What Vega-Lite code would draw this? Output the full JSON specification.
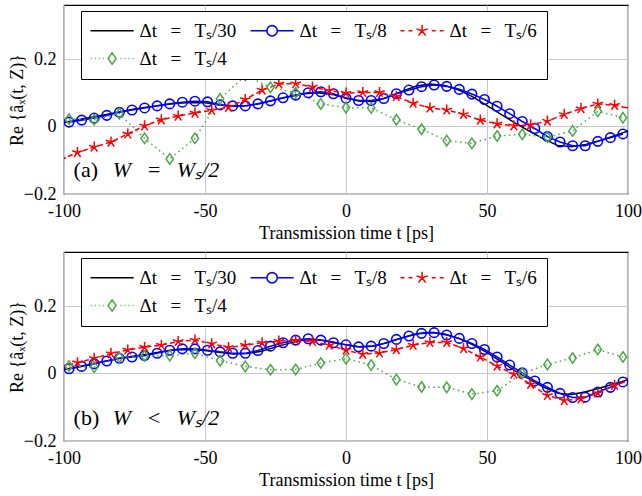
{
  "$schema": "https://vega.github.io/schema/vega-lite/v6.json",
  "padding": {"left": 7, "top": 4, "right": 0, "bottom": 2},
  "background": "white",
  "spacing": 8,
  "resolve": {"scale": {"color": "independent", "shape": "independent"}, "legend": {"color": "independent", "shape": "independent"}},
  "config": {
    "font": "Liberation Serif",
    "view": {"stroke": "black", "strokeWidth": 1.2},
    "axis": {"grid": true, "gridColor": "#c8c8c8", "gridWidth": 1, "domain": false, "ticks": false, "labelFont": "Liberation Serif", "labelFontSize": 18, "labelColor": "black", "titleFont": "Liberation Serif", "titleFontSize": 18, "titleFontWeight": "normal", "titleColor": "black"},
    "legend": {"title": null, "orient": "none", "legendX": 17, "legendY": 6, "direction": "horizontal", "columns": 3, "symbolSize": 256, "symbolStrokeWidth": 1.5, "symbolOffset": 11.6, "labelOffset": 18, "labelFont": "Liberation Serif", "labelFontSize": 19, "labelColor": "black", "labelLimit": 300, "columnPadding": 10, "rowPadding": 8, "padding": 10, "strokeColor": "black", "fillColor": "white", "cornerRadius": 0}
  },
  "datasets": {
    "a": [
      {"s":"30","t":-100,"v":0.012},{"s":"30","t":-95,"v":0.02},{"s":"30","t":-90,"v":0.028},{"s":"30","t":-85,"v":0.036},{"s":"30","t":-80,"v":0.044},{"s":"30","t":-75,"v":0.052},{"s":"30","t":-70,"v":0.058},{"s":"30","t":-65,"v":0.064},{"s":"30","t":-60,"v":0.069},{"s":"30","t":-55,"v":0.071},{"s":"30","t":-50,"v":0.07},{"s":"30","t":-45,"v":0.064},{"s":"30","t":-40,"v":0.06},{"s":"30","t":-35,"v":0.062},{"s":"30","t":-30,"v":0.069},{"s":"30","t":-25,"v":0.079},{"s":"30","t":-20,"v":0.089},{"s":"30","t":-15,"v":0.097},{"s":"30","t":-10,"v":0.1},{"s":"30","t":-5,"v":0.095},{"s":"30","t":0,"v":0.084},{"s":"30","t":5,"v":0.075},{"s":"30","t":10,"v":0.074},{"s":"30","t":15,"v":0.087},{"s":"30","t":20,"v":0.105},{"s":"30","t":25,"v":0.12},{"s":"30","t":30,"v":0.126},{"s":"30","t":35,"v":0.122},{"s":"30","t":40,"v":0.108},{"s":"30","t":45,"v":0.088},{"s":"30","t":50,"v":0.062},{"s":"30","t":55,"v":0.036},{"s":"30","t":60,"v":0.01},{"s":"30","t":65,"v":-0.014},{"s":"30","t":70,"v":-0.037},{"s":"30","t":75,"v":-0.056},{"s":"30","t":80,"v":-0.06},{"s":"30","t":85,"v":-0.053},{"s":"30","t":90,"v":-0.042},{"s":"30","t":95,"v":-0.028},{"s":"30","t":100,"v":-0.013},
      {"s":"8","t":-98.21,"v":0.013},{"s":"8","t":-93.75,"v":0.019},{"s":"8","t":-89.29,"v":0.025},{"s":"8","t":-84.82,"v":0.033},{"s":"8","t":-80.36,"v":0.042},{"s":"8","t":-75.89,"v":0.049},{"s":"8","t":-71.43,"v":0.055},{"s":"8","t":-66.96,"v":0.061},{"s":"8","t":-62.5,"v":0.067},{"s":"8","t":-58.04,"v":0.072},{"s":"8","t":-53.57,"v":0.075},{"s":"8","t":-49.11,"v":0.073},{"s":"8","t":-44.64,"v":0.064},{"s":"8","t":-40.18,"v":0.061},{"s":"8","t":-35.71,"v":0.061},{"s":"8","t":-31.25,"v":0.067},{"s":"8","t":-26.79,"v":0.076},{"s":"8","t":-22.32,"v":0.085},{"s":"8","t":-17.86,"v":0.093},{"s":"8","t":-13.39,"v":0.1},{"s":"8","t":-8.93,"v":0.103},{"s":"8","t":-4.46,"v":0.097},{"s":"8","t":0,"v":0.084},{"s":"8","t":4.46,"v":0.077},{"s":"8","t":8.93,"v":0.077},{"s":"8","t":13.39,"v":0.083},{"s":"8","t":17.86,"v":0.097},{"s":"8","t":22.32,"v":0.108},{"s":"8","t":26.79,"v":0.118},{"s":"8","t":31.25,"v":0.123},{"s":"8","t":35.71,"v":0.119},{"s":"8","t":40.18,"v":0.11},{"s":"8","t":44.64,"v":0.096},{"s":"8","t":49.11,"v":0.08},{"s":"8","t":53.57,"v":0.06},{"s":"8","t":58.04,"v":0.038},{"s":"8","t":62.5,"v":0.015},{"s":"8","t":66.96,"v":-0.006},{"s":"8","t":71.43,"v":-0.03},{"s":"8","t":75.89,"v":-0.046},{"s":"8","t":80.36,"v":-0.057},{"s":"8","t":84.82,"v":-0.057},{"s":"8","t":89.29,"v":-0.044},{"s":"8","t":93.75,"v":-0.033},{"s":"8","t":98.21,"v":-0.022},
      {"s":"6","t":-101.19,"v":-0.098},{"s":"6","t":-95.24,"v":-0.077},{"s":"6","t":-89.29,"v":-0.061},{"s":"6","t":-83.33,"v":-0.046},{"s":"6","t":-77.38,"v":-0.022},{"s":"6","t":-71.43,"v":0.002},{"s":"6","t":-65.48,"v":0.02},{"s":"6","t":-59.52,"v":0.031},{"s":"6","t":-53.57,"v":0.04},{"s":"6","t":-47.62,"v":0.048},{"s":"6","t":-41.67,"v":0.057},{"s":"6","t":-35.71,"v":0.08},{"s":"6","t":-29.76,"v":0.108},{"s":"6","t":-23.81,"v":0.126},{"s":"6","t":-17.86,"v":0.127},{"s":"6","t":-11.9,"v":0.117},{"s":"6","t":-5.95,"v":0.106},{"s":"6","t":0,"v":0.099},{"s":"6","t":5.95,"v":0.101},{"s":"6","t":11.9,"v":0.101},{"s":"6","t":17.86,"v":0.089},{"s":"6","t":23.81,"v":0.069},{"s":"6","t":29.76,"v":0.055},{"s":"6","t":35.71,"v":0.049},{"s":"6","t":41.67,"v":0.036},{"s":"6","t":47.62,"v":0.019},{"s":"6","t":53.57,"v":0.008},{"s":"6","t":59.52,"v":0.002},{"s":"6","t":65.48,"v":0.005},{"s":"6","t":71.43,"v":0.016},{"s":"6","t":77.38,"v":0.036},{"s":"6","t":83.33,"v":0.053},{"s":"6","t":89.29,"v":0.067},{"s":"6","t":95.24,"v":0.063},{"s":"6","t":101.19,"v":0.052},
      {"s":"4","t":-98.21,"v":0.022},{"s":"4","t":-89.29,"v":0.02},{"s":"4","t":-80.36,"v":0.038},{"s":"4","t":-71.43,"v":-0.035},{"s":"4","t":-62.5,"v":-0.096},{"s":"4","t":-53.57,"v":-0.035},{"s":"4","t":-44.64,"v":0.082},{"s":"4","t":-35.71,"v":0.151},{"s":"4","t":-26.79,"v":0.116},{"s":"4","t":-17.86,"v":0.1},{"s":"4","t":-8.93,"v":0.067},{"s":"4","t":0,"v":0.056},{"s":"4","t":8.93,"v":0.055},{"s":"4","t":17.86,"v":0.02},{"s":"4","t":26.79,"v":-0.008},{"s":"4","t":35.71,"v":-0.042},{"s":"4","t":44.64,"v":-0.05},{"s":"4","t":53.57,"v":-0.028},{"s":"4","t":62.5,"v":-0.023},{"s":"4","t":71.43,"v":-0.032},{"s":"4","t":80.36,"v":-0.013},{"s":"4","t":89.29,"v":0.045},{"s":"4","t":98.21,"v":0.026}
    ],
    "b": [
      {"s":"30","t":-100,"v":0.012},{"s":"30","t":-95,"v":0.02},{"s":"30","t":-90,"v":0.028},{"s":"30","t":-85,"v":0.037},{"s":"30","t":-80,"v":0.045},{"s":"30","t":-75,"v":0.052},{"s":"30","t":-70,"v":0.058},{"s":"30","t":-65,"v":0.065},{"s":"30","t":-60,"v":0.07},{"s":"30","t":-55,"v":0.071},{"s":"30","t":-50,"v":0.068},{"s":"30","t":-45,"v":0.063},{"s":"30","t":-40,"v":0.058},{"s":"30","t":-35,"v":0.059},{"s":"30","t":-30,"v":0.066},{"s":"30","t":-25,"v":0.078},{"s":"30","t":-20,"v":0.09},{"s":"30","t":-15,"v":0.099},{"s":"30","t":-10,"v":0.1},{"s":"30","t":-5,"v":0.094},{"s":"30","t":0,"v":0.085},{"s":"30","t":5,"v":0.079},{"s":"30","t":10,"v":0.081},{"s":"30","t":15,"v":0.092},{"s":"30","t":20,"v":0.106},{"s":"30","t":25,"v":0.118},{"s":"30","t":30,"v":0.122},{"s":"30","t":35,"v":0.117},{"s":"30","t":40,"v":0.104},{"s":"30","t":45,"v":0.085},{"s":"30","t":50,"v":0.062},{"s":"30","t":55,"v":0.035},{"s":"30","t":60,"v":0.008},{"s":"30","t":65,"v":-0.017},{"s":"30","t":70,"v":-0.04},{"s":"30","t":75,"v":-0.058},{"s":"30","t":80,"v":-0.062},{"s":"30","t":85,"v":-0.054},{"s":"30","t":90,"v":-0.043},{"s":"30","t":95,"v":-0.031},{"s":"30","t":100,"v":-0.018},
      {"s":"8","t":-98.21,"v":0.014},{"s":"8","t":-93.75,"v":0.021},{"s":"8","t":-89.29,"v":0.029},{"s":"8","t":-84.82,"v":0.037},{"s":"8","t":-80.36,"v":0.045},{"s":"8","t":-75.89,"v":0.049},{"s":"8","t":-71.43,"v":0.053},{"s":"8","t":-66.96,"v":0.06},{"s":"8","t":-62.5,"v":0.069},{"s":"8","t":-58.04,"v":0.073},{"s":"8","t":-53.57,"v":0.073},{"s":"8","t":-49.11,"v":0.069},{"s":"8","t":-44.64,"v":0.064},{"s":"8","t":-40.18,"v":0.06},{"s":"8","t":-35.71,"v":0.06},{"s":"8","t":-31.25,"v":0.068},{"s":"8","t":-26.79,"v":0.081},{"s":"8","t":-22.32,"v":0.091},{"s":"8","t":-17.86,"v":0.099},{"s":"8","t":-13.39,"v":0.103},{"s":"8","t":-8.93,"v":0.099},{"s":"8","t":-4.46,"v":0.091},{"s":"8","t":0,"v":0.085},{"s":"8","t":4.46,"v":0.079},{"s":"8","t":8.93,"v":0.081},{"s":"8","t":13.39,"v":0.089},{"s":"8","t":17.86,"v":0.101},{"s":"8","t":22.32,"v":0.111},{"s":"8","t":26.79,"v":0.119},{"s":"8","t":31.25,"v":0.121},{"s":"8","t":35.71,"v":0.114},{"s":"8","t":40.18,"v":0.104},{"s":"8","t":44.64,"v":0.089},{"s":"8","t":49.11,"v":0.071},{"s":"8","t":53.57,"v":0.049},{"s":"8","t":58.04,"v":0.025},{"s":"8","t":62.5,"v":0.002},{"s":"8","t":66.96,"v":-0.022},{"s":"8","t":71.43,"v":-0.041},{"s":"8","t":75.89,"v":-0.059},{"s":"8","t":80.36,"v":-0.071},{"s":"8","t":84.82,"v":-0.07},{"s":"8","t":89.29,"v":-0.055},{"s":"8","t":93.75,"v":-0.041},{"s":"8","t":98.21,"v":-0.025},
      {"s":"6","t":-101.19,"v":0.02},{"s":"6","t":-95.24,"v":0.032},{"s":"6","t":-89.29,"v":0.045},{"s":"6","t":-83.33,"v":0.059},{"s":"6","t":-77.38,"v":0.07},{"s":"6","t":-71.43,"v":0.078},{"s":"6","t":-65.48,"v":0.084},{"s":"6","t":-59.52,"v":0.095},{"s":"6","t":-53.57,"v":0.099},{"s":"6","t":-47.62,"v":0.088},{"s":"6","t":-41.67,"v":0.077},{"s":"6","t":-35.71,"v":0.084},{"s":"6","t":-29.76,"v":0.091},{"s":"6","t":-23.81,"v":0.096},{"s":"6","t":-17.86,"v":0.098},{"s":"6","t":-11.9,"v":0.095},{"s":"6","t":-5.95,"v":0.084},{"s":"6","t":0,"v":0.069},{"s":"6","t":5.95,"v":0.057},{"s":"6","t":11.9,"v":0.061},{"s":"6","t":17.86,"v":0.071},{"s":"6","t":23.81,"v":0.084},{"s":"6","t":29.76,"v":0.092},{"s":"6","t":35.71,"v":0.092},{"s":"6","t":41.67,"v":0.074},{"s":"6","t":47.62,"v":0.049},{"s":"6","t":53.57,"v":0.022},{"s":"6","t":59.52,"v":-0.002},{"s":"6","t":65.48,"v":-0.032},{"s":"6","t":71.43,"v":-0.065},{"s":"6","t":77.38,"v":-0.08},{"s":"6","t":83.33,"v":-0.075},{"s":"6","t":89.29,"v":-0.058},{"s":"6","t":95.24,"v":-0.035},{"s":"6","t":101.19,"v":-0.018},
      {"s":"4","t":-98.21,"v":0.022},{"s":"4","t":-89.29,"v":0.019},{"s":"4","t":-80.36,"v":0.048},{"s":"4","t":-71.43,"v":0.052},{"s":"4","t":-62.5,"v":0.053},{"s":"4","t":-53.57,"v":0.06},{"s":"4","t":-44.64,"v":0.038},{"s":"4","t":-35.71,"v":0.021},{"s":"4","t":-26.79,"v":0.011},{"s":"4","t":-17.86,"v":0.012},{"s":"4","t":-8.93,"v":0.031},{"s":"4","t":0,"v":0.044},{"s":"4","t":8.93,"v":0.025},{"s":"4","t":17.86,"v":-0.018},{"s":"4","t":26.79,"v":-0.04},{"s":"4","t":35.71,"v":-0.041},{"s":"4","t":44.64,"v":-0.061},{"s":"4","t":53.57,"v":-0.051},{"s":"4","t":62.5,"v":0.0},{"s":"4","t":71.43,"v":0.027},{"s":"4","t":80.36,"v":0.046},{"s":"4","t":89.29,"v":0.071},{"s":"4","t":98.21,"v":0.049}
    ]
  },
  "vconcat": [
    {
      "width": 564, "height": 189,
      "layer": [
        {
          "data": {"name": "a"},
          "encoding": {
            "x": {"field": "t", "type": "quantitative", "scale": {"domain": [-100, 100], "nice": false, "zero": false},
                  "axis": {"values": [-100, -50, 0, 50, 100], "labelFlush": false, "labelPadding": 8, "titlePadding": 4, "title": "Transmission time t [ps]", "labelFont": "Liberation Serif", "titleFont": "Liberation Serif",
                           "labelExpr": "datum.value < 0 ? '-' + format(-datum.value, 'd') : format(datum.value, 'd')"}},
            "y": {"field": "v", "type": "quantitative", "scale": {"domain": [-0.2, 0.36], "nice": false, "zero": false},
                  "axis": {"values": [-0.2, 0, 0.2], "labelPadding": 8, "titlePadding": -3, "title": "Re {âₓ(t, Z)}", "labelFont": "Liberation Serif", "titleFont": "Liberation Serif",
                           "labelExpr": "datum.value == 0 ? '0' : datum.value < 0 ? '−' + format(-datum.value, '.1f') : format(datum.value, '.1f')"}}
          },
          "layer": [
            {"transform": [{"filter": "datum.s == '30'"}], "mark": {"type": "line", "color": "black", "strokeWidth": 1.4, "clip": true}},
            {"transform": [{"filter": "datum.s == '8'"}], "mark": {"type": "line", "color": "#0000ff", "strokeWidth": 1.6, "clip": true}},
            {"transform": [{"filter": "datum.s == '8'"}], "mark": {"type": "point", "shape": "circle", "size": 90, "filled": false, "color": "#0000ff", "strokeWidth": 1.6, "opacity": 1, "clip": true}},
            {"transform": [{"filter": "datum.s == '6'"}], "mark": {"type": "line", "color": "#ff0000", "strokeWidth": 1.5, "strokeDash": [5, 3], "clip": true}},
            {"transform": [{"filter": "datum.s == '6'"}], "mark": {"type": "point", "shape": "M0,0L0,-1M0,0L-0.951,-0.309M0,0L-0.588,0.809M0,0L0.588,0.809M0,0L0.951,-0.309", "size": 121, "filled": false, "color": "#ff0000", "strokeWidth": 1.5, "opacity": 1, "clip": true}},
            {"transform": [{"filter": "datum.s == '4'"}], "mark": {"type": "line", "color": "#4ea64a", "strokeWidth": 1.5, "strokeDash": [1.5, 3.5], "clip": true}},
            {"transform": [{"filter": "datum.s == '4'"}], "mark": {"type": "point", "shape": "M0,-1L0.7,0L0,1L-0.7,0Z", "size": 110, "filled": false, "color": "#4ea64a", "strokeWidth": 1.5, "opacity": 1, "clip": true}},
            {
              "transform": [{"filter": "datum.t > 1000"}],
              "mark": {"type": "point", "filled": false, "opacity": 1},
              "encoding": {
                "color": {"field": "s", "type": "nominal", "scale": {"domain": ["30", "8", "6", "4"], "range": ["black", "#0000ff", "#ff0000", "#4ea64a"]},
                          "legend": {"labelFont": "Liberation Serif", "labelExpr": "datum.value == '30' ? 'Δt\u2002\u2009=\u2009\u2002Tₛ/30' : datum.value == '8' ? 'Δt\u2002\u2009=\u2009\u2002Tₛ/8' : datum.value == '6' ? 'Δt\u2002\u2009=\u2009\u2002Tₛ/6' : 'Δt\u2002\u2009=\u2009\u2002Tₛ/4'"}},
                "shape": {"field": "s", "type": "nominal", "scale": {"domain": ["30", "8", "6", "4"], "range": [
                    "M-2.7,0L2.7,0",
                    "M-2.7,0L-0.65,0M0.65,0L2.7,0M0.65,0L0.6,0.249L0.46,0.46L0.249,0.6L0,0.65L-0.249,0.6L-0.46,0.46L-0.6,0.249L-0.65,0L-0.6,-0.249L-0.46,-0.46L-0.249,-0.6L0,-0.65L0.249,-0.6L0.46,-0.46L0.6,-0.249Z",
                    "M-2.7,0L-2.2,0M-1.7,0L-1.2,0M1.2,0L1.7,0M2.2,0L2.7,0M0,0L0,-0.75M0,0L-0.713,-0.232M0,0L-0.441,0.607M0,0L0.441,0.607M0,0L0.713,-0.232",
                    "M-2.66,0L-2.54,0M-2.16,0L-2.04,0M-1.66,0L-1.54,0M-1.16,0L-1.04,0M1.04,0L1.16,0M1.54,0L1.66,0M2.04,0L2.16,0M2.54,0L2.66,0M0,-0.7L0.5,0L0,0.7L-0.5,0Z"]},
                          "legend": {"labelFont": "Liberation Serif", "labelExpr": "datum.value == '30' ? 'Δt\u2002\u2009=\u2009\u2002Tₛ/30' : datum.value == '8' ? 'Δt\u2002\u2009=\u2009\u2002Tₛ/8' : datum.value == '6' ? 'Δt\u2002\u2009=\u2009\u2002Tₛ/6' : 'Δt\u2002\u2009=\u2009\u2002Tₛ/4'"}}
              }
            }
          ]
        },
        {"data": {"values": [{}]}, "mark": {"type": "text", "text": "(a)", "align": "left", "baseline": "alphabetic", "fontSize": 22, "font": "Liberation Serif", "color": "black"},
         "encoding": {"x": {"datum": -96.6, "type": "quantitative"}, "y": {"datum": -0.151, "type": "quantitative"}}},
        {"data": {"values": [{}]}, "mark": {"type": "text", "text": "W\u2002\u2009=\u2009\u2002Wₛ/2", "align": "left", "baseline": "alphabetic", "fontSize": 22, "fontStyle": "italic", "font": "Liberation Serif", "color": "black"},
         "encoding": {"x": {"datum": -82.7, "type": "quantitative"}, "y": {"datum": -0.151, "type": "quantitative"}}}
      ]
    },
    {
      "width": 564, "height": 189,
      "layer": [
        {
          "data": {"name": "b"},
          "encoding": {
            "x": {"field": "t", "type": "quantitative", "scale": {"domain": [-100, 100], "nice": false, "zero": false},
                  "axis": {"values": [-100, -50, 0, 50, 100], "labelFlush": false, "labelPadding": 8, "titlePadding": 4, "title": "Transmission time t [ps]", "labelFont": "Liberation Serif", "titleFont": "Liberation Serif",
                           "labelExpr": "datum.value < 0 ? '-' + format(-datum.value, 'd') : format(datum.value, 'd')"}},
            "y": {"field": "v", "type": "quantitative", "scale": {"domain": [-0.2, 0.36], "nice": false, "zero": false},
                  "axis": {"values": [-0.2, 0, 0.2], "labelPadding": 8, "titlePadding": -3, "title": "Re {âₓ(t, Z)}", "labelFont": "Liberation Serif", "titleFont": "Liberation Serif",
                           "labelExpr": "datum.value == 0 ? '0' : datum.value < 0 ? '−' + format(-datum.value, '.1f') : format(datum.value, '.1f')"}}
          },
          "layer": [
            {"transform": [{"filter": "datum.s == '30'"}], "mark": {"type": "line", "color": "black", "strokeWidth": 1.4, "clip": true}},
            {"transform": [{"filter": "datum.s == '8'"}], "mark": {"type": "line", "color": "#0000ff", "strokeWidth": 1.6, "clip": true}},
            {"transform": [{"filter": "datum.s == '8'"}], "mark": {"type": "point", "shape": "circle", "size": 90, "filled": false, "color": "#0000ff", "strokeWidth": 1.6, "opacity": 1, "clip": true}},
            {"transform": [{"filter": "datum.s == '6'"}], "mark": {"type": "line", "color": "#ff0000", "strokeWidth": 1.5, "strokeDash": [5, 3], "clip": true}},
            {"transform": [{"filter": "datum.s == '6'"}], "mark": {"type": "point", "shape": "M0,0L0,-1M0,0L-0.951,-0.309M0,0L-0.588,0.809M0,0L0.588,0.809M0,0L0.951,-0.309", "size": 121, "filled": false, "color": "#ff0000", "strokeWidth": 1.5, "opacity": 1, "clip": true}},
            {"transform": [{"filter": "datum.s == '4'"}], "mark": {"type": "line", "color": "#4ea64a", "strokeWidth": 1.5, "strokeDash": [1.5, 3.5], "clip": true}},
            {"transform": [{"filter": "datum.s == '4'"}], "mark": {"type": "point", "shape": "M0,-1L0.7,0L0,1L-0.7,0Z", "size": 110, "filled": false, "color": "#4ea64a", "strokeWidth": 1.5, "opacity": 1, "clip": true}},
            {
              "transform": [{"filter": "datum.t > 1000"}],
              "mark": {"type": "point", "filled": false, "opacity": 1},
              "encoding": {
                "color": {"field": "s", "type": "nominal", "scale": {"domain": ["30", "8", "6", "4"], "range": ["black", "#0000ff", "#ff0000", "#4ea64a"]},
                          "legend": {"labelFont": "Liberation Serif", "labelExpr": "datum.value == '30' ? 'Δt\u2002\u2009=\u2009\u2002Tₛ/30' : datum.value == '8' ? 'Δt\u2002\u2009=\u2009\u2002Tₛ/8' : datum.value == '6' ? 'Δt\u2002\u2009=\u2009\u2002Tₛ/6' : 'Δt\u2002\u2009=\u2009\u2002Tₛ/4'"}},
                "shape": {"field": "s", "type": "nominal", "scale": {"domain": ["30", "8", "6", "4"], "range": [
                    "M-2.7,0L2.7,0",
                    "M-2.7,0L-0.65,0M0.65,0L2.7,0M0.65,0L0.6,0.249L0.46,0.46L0.249,0.6L0,0.65L-0.249,0.6L-0.46,0.46L-0.6,0.249L-0.65,0L-0.6,-0.249L-0.46,-0.46L-0.249,-0.6L0,-0.65L0.249,-0.6L0.46,-0.46L0.6,-0.249Z",
                    "M-2.7,0L-2.2,0M-1.7,0L-1.2,0M1.2,0L1.7,0M2.2,0L2.7,0M0,0L0,-0.75M0,0L-0.713,-0.232M0,0L-0.441,0.607M0,0L0.441,0.607M0,0L0.713,-0.232",
                    "M-2.66,0L-2.54,0M-2.16,0L-2.04,0M-1.66,0L-1.54,0M-1.16,0L-1.04,0M1.04,0L1.16,0M1.54,0L1.66,0M2.04,0L2.16,0M2.54,0L2.66,0M0,-0.7L0.5,0L0,0.7L-0.5,0Z"]},
                          "legend": {"labelFont": "Liberation Serif", "labelExpr": "datum.value == '30' ? 'Δt\u2002\u2009=\u2009\u2002Tₛ/30' : datum.value == '8' ? 'Δt\u2002\u2009=\u2009\u2002Tₛ/8' : datum.value == '6' ? 'Δt\u2002\u2009=\u2009\u2002Tₛ/6' : 'Δt\u2002\u2009=\u2009\u2002Tₛ/4'"}}
              }
            }
          ]
        },
        {"data": {"values": [{}]}, "mark": {"type": "text", "text": "(b)", "align": "left", "baseline": "alphabetic", "fontSize": 22, "font": "Liberation Serif", "color": "black"},
         "encoding": {"x": {"datum": -96.6, "type": "quantitative"}, "y": {"datum": -0.154, "type": "quantitative"}}},
        {"data": {"values": [{}]}, "mark": {"type": "text", "text": "W\u2002\u2009<\u2009\u2002Wₛ/2", "align": "left", "baseline": "alphabetic", "fontSize": 22, "fontStyle": "italic", "font": "Liberation Serif", "color": "black"},
         "encoding": {"x": {"datum": -82.7, "type": "quantitative"}, "y": {"datum": -0.154, "type": "quantitative"}}}
      ]
    }
  ]
}
